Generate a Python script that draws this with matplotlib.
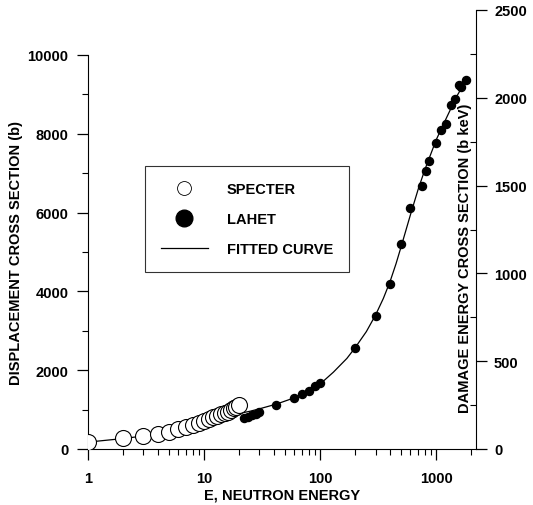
import matplotlib
matplotlib.use("Agg")
import matplotlib.pyplot as plt
from matplotlib.ticker import MultipleLocator, FixedLocator, NullFormatter

plt.rcParams['font.family'] = ['Liberation Sans', 'DejaVu Sans']
plt.rcParams['font.weight'] = 'bold'

# SPECTER (open circles)
specter_e = [1, 2, 3, 4, 5, 6, 7, 8, 9, 10, 11, 12, 13, 14, 15, 16, 17, 18, 19, 20]
specter_d = [175, 280, 330, 370, 440, 500, 560, 610, 660, 720, 770, 810, 850, 880,
             920, 950, 990, 1030, 1070, 1110]

# LAHET (filled circles)
lahet_e = [22, 24, 26, 28, 30, 42, 60, 70, 80, 90, 100, 200, 300, 400, 500, 600,
           750, 820, 870, 1000, 1100, 1210, 1340, 1450, 1570, 1650, 1800]
lahet_d = [780, 820, 860, 900, 950, 1120, 1290, 1400, 1470, 1600, 1670, 2560, 3380,
           4190, 5200, 6120, 6670, 7060, 7310, 7770, 8100, 8250, 8730, 8880, 9240,
           9190, 9370]

# fitted curve
fit_e = [1, 2, 3, 5, 7, 10, 15, 20, 25, 30, 42, 60, 80, 100, 130, 170, 200, 250, 300,
         350, 400, 450, 500, 600, 700, 800, 1000, 1200, 1500, 1800]
fit_d = [175, 265, 330, 430, 530, 640, 800, 900, 960, 1020, 1140, 1300, 1470, 1650,
         1950, 2300, 2570, 2980, 3400, 3820, 4250, 4700, 5150, 5950, 6600, 7100, 7850,
         8350, 8950, 9350]

W, H = 533, 506
fig = plt.figure(figsize=(W / 100, H / 100), dpi=100)

x0, x1 = 88, 476
ybot, ytop, ytop_r = 450, 56, 11
ax = fig.add_axes([x0 / W, 1 - ybot / H, (x1 - x0) / W, (ybot - ytop) / H])
ax2 = fig.add_axes([x0 / W, 1 - ybot / H, (x1 - x0) / W, (ybot - ytop_r) / H])
ax2.patch.set_visible(False)

ax.plot(fit_e, fit_d, color='black', lw=0.9, label='FITTED CURVE', zorder=2)
ax.plot(specter_e, specter_d, 'o', mfc='white', mec='black', mew=0.8, ms=11.5,
        ls='none', label='SPECTER', zorder=3)
ax.plot(lahet_e, lahet_d, 'o', color='black', ms=5.8, ls='none', label='LAHET',
        zorder=4)

for a in (ax, ax2):
    a.set_xscale('log')
    a.set_xlim(1, 2200)

fs = 10.5
ax.set_ylim(0, 10000)
ax.yaxis.set_major_locator(MultipleLocator(2000))
ax.yaxis.set_minor_locator(MultipleLocator(1000))
ax.spines['top'].set_visible(False)
ax.spines['right'].set_visible(False)
ax.xaxis.set_major_locator(FixedLocator([1, 10, 100, 1000]))
ax.xaxis.set_major_formatter(plt.FixedFormatter(['1', '10', '100', '1000']))
ax.tick_params(axis='both', which='major', direction='out', length=8, width=0.9,
               labelsize=fs)
ax.tick_params(axis='x', which='major', pad=8)
ax.tick_params(axis='y', which='major', pad=6)
ax.tick_params(axis='both', which='minor', direction='out', length=4, width=0.8)
ax.xaxis.set_minor_formatter(NullFormatter())
ax.set_xlabel('E, NEUTRON ENERGY', fontsize=fs, fontweight='bold', labelpad=2)
ax.set_ylabel('DISPLACEMENT CROSS SECTION (b)', fontsize=fs, fontweight='bold',
              labelpad=3)

ax2.set_ylim(0, 2500)
for s in ('top', 'left', 'bottom'):
    ax2.spines[s].set_visible(False)
ax2.set_xticks([])
ax2.xaxis.set_minor_locator(plt.NullLocator())
ax2.yaxis.tick_right()
ax2.yaxis.set_major_locator(MultipleLocator(500))
ax2.yaxis.set_minor_locator(MultipleLocator(250))
ax2.tick_params(axis='y', which='major', direction='out', length=8, width=0.9,
                labelsize=fs, pad=5)
ax2.tick_params(axis='y', which='minor', direction='in', length=4, width=0.8)
fig.text(465 / W, 1 - 258 / H, 'DAMAGE ENERGY CROSS SECTION (b keV)', rotation=90,
         ha='center', va='center', fontsize=fs, fontweight='bold')

handles, labels = ax.get_legend_handles_labels()
order = [1, 2, 0]
leg = ax.legend([handles[i] for i in order], [labels[i] for i in order],
                loc='upper left', bbox_to_anchor=((145 - x0) / (x1 - x0), (ybot - 167) / (ybot - ytop)),
                frameon=True, fancybox=False, edgecolor='black', fontsize=fs,
                handlelength=3.2, borderpad=1.1, labelspacing=1.1, handletextpad=1.3,
                borderaxespad=0)
leg.get_frame().set_linewidth(0.8)
lh = leg.legend_handles
lh[0].set_markersize(10)
lh[0].set_linestyle('none')
lh[0].set_markeredgewidth(0.6)
lh[1].set_markersize(12)
lh[1].set_linestyle('none')

fig.savefig('out.png', dpi=100)
